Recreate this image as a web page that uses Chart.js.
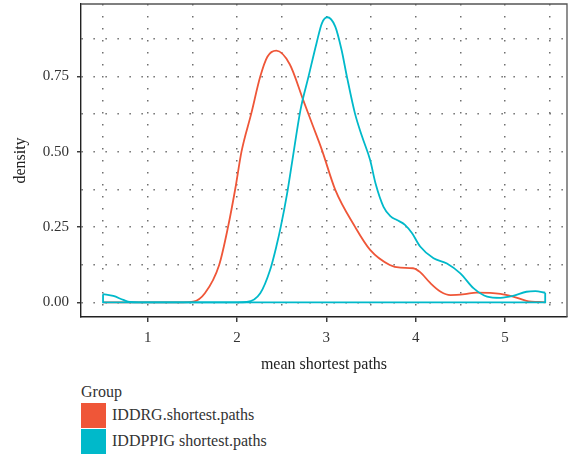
<!DOCTYPE html>
<html>
<head>
<meta charset="utf-8">
<script src="https://cdn.jsdelivr.net/npm/chart.js@4.4.1/dist/chart.umd.min.js"></script>
<style>
  body { margin: 0; background: #fff; }
  #wrap { position: relative; width: 574px; height: 458px; font-family: "Liberation Serif", serif; color: #333; }
  #legend { position: absolute; left: 81px; top: 381px; }
  .lg-title { font-size: 16px; height: 21px; line-height: 21px; }
  .lg-row { display: flex; align-items: center; height: 26px; font-size: 16px; }
  .lg-box { width: 25px; height: 25px; margin-right: 6px; }
</style>
</head>
<body>
<div id="wrap">
  <canvas id="chart" width="574" height="380"></canvas>
  <div id="legend"></div>
</div>
<script>
var groups = ['IDDRG.shortest.paths', 'IDDPPIG shortest.paths'];
var colors = ['#ef5638', '#00b9ca'];

// density curves
var iddrgX = [0.5, 1.0, 1.4, 1.51, 1.64, 1.80, 1.90, 1.98, 2.05, 2.16, 2.26, 2.34, 2.44, 2.59, 2.74, 2.85, 2.95,
  3.10, 3.32, 3.49, 3.71, 3.83, 3.97, 4.05, 4.16, 4.28, 4.39, 4.55, 4.68, 4.95, 5.09, 5.24, 5.45];
var iddrgY = [0, 0, 0, 0.002, 0.030, 0.124, 0.251, 0.376, 0.500, 0.627, 0.749, 0.815, 0.835, 0.790, 0.672, 0.585, 0.506,
  0.373, 0.251, 0.174, 0.124, 0.115, 0.113, 0.100, 0.065, 0.035, 0.024, 0.027, 0.032, 0.028, 0.019, 0.005, 0];

var iddppigX = [0.5, 0.615, 0.727, 0.80, 0.9, 2.0, 2.11, 2.26, 2.37, 2.44, 2.49, 2.56, 2.62, 2.71, 2.80, 2.89, 2.95,
  3.01, 3.10, 3.17, 3.23, 3.32, 3.40, 3.49, 3.55, 3.64, 3.72, 3.79, 3.88, 3.96, 4.05, 4.20, 4.35, 4.50, 4.65,
  4.80, 4.95, 5.09, 5.24, 5.34, 5.45];
var iddppigY = [0.027, 0.021, 0.008, 0.001, 0, 0, 0.001, 0.030, 0.107, 0.185, 0.251, 0.360, 0.472, 0.638, 0.749, 0.860, 0.926,
  0.946, 0.915, 0.838, 0.749, 0.627, 0.550, 0.472, 0.395, 0.317, 0.285, 0.273, 0.257, 0.229, 0.185, 0.146, 0.129, 0.096, 0.046,
  0.019, 0.015, 0.021, 0.035, 0.037, 0.032];

var xTicks = [0.5, 1, 1.5, 2, 2.5, 3, 3.5, 4, 4.5, 5, 5.5];
var yTicks = [0, 0.125, 0.25, 0.375, 0.5, 0.625, 0.75, 0.875];

var fontFamily = '"Liberation Serif", serif';

function toPoints(xs, ys) {
  return xs.map(function (x, i) { return { x: x, y: ys[i] }; });
}

// closing edges of the second density polygon (sides and baseline)
var last = iddppigX.length - 1;
var iddppigEdge = [
  { x: iddppigX[0], y: iddppigY[0] },
  { x: iddppigX[0], y: 0 },
  { x: iddppigX[last], y: 0 },
  { x: iddppigX[last], y: iddppigY[last] }
];

var framePlugin = {
  id: 'frame',
  beforeDatasetsDraw: function (chart) {
    var a = chart.chartArea;
    var ctx = chart.ctx;
    ctx.save();
    ctx.strokeStyle = '#555';
    ctx.lineWidth = 1.3;
    ctx.beginPath();
    ctx.moveTo(a.left, a.top);
    ctx.lineTo(a.right, a.top);
    ctx.lineTo(a.right, a.bottom);
    ctx.stroke();
    ctx.restore();
  }
};

var ctx = document.getElementById('chart').getContext('2d');
var chart = new Chart(ctx, {
  type: 'line',
  data: {
    datasets: [{
      label: groups[0],
      data: toPoints(iddrgX, iddrgY),
      borderColor: colors[0],
      borderWidth: 1.8,
      cubicInterpolationMode: 'monotone',
      pointRadius: 0,
      fill: false,
      order: 3
    }, {
      label: groups[1],
      data: toPoints(iddppigX, iddppigY),
      borderColor: colors[1],
      borderWidth: 1.8,
      cubicInterpolationMode: 'monotone',
      pointRadius: 0,
      fill: false,
      order: 1
    }, {
      label: groups[1] + ' edge',
      data: iddppigEdge,
      borderColor: colors[1],
      borderWidth: 1.8,
      tension: 0,
      pointRadius: 0,
      fill: false,
      order: 2
    }]
  },
  options: {
    responsive: false,
    animation: false,
    layout: { padding: { top: 4, right: 7, left: 0, bottom: 0 } },
    plugins: {
      legend: { display: false },
      tooltip: { enabled: false }
    },
    scales: {
      x: {
        type: 'linear',
        bounds: 'data',
        min: 0.2533,
        max: 5.694,
        afterBuildTicks: function (axis) {
          axis.ticks = xTicks.map(function (v) { return { value: v }; });
        },
        afterFit: function (axis) {
          axis.height = 63;
          axis.paddingLeft = 0;
          axis.paddingRight = 0;
        },
        ticks: {
          autoSkip: false,
          maxRotation: 0,
          padding: 7,
          color: '#333',
          font: { family: fontFamily, size: 15 },
          callback: function (v) { return Number.isInteger(v) ? String(v) : ''; }
        },
        grid: {
          color: '#6f6f6f',
          lineWidth: 1.5,
          tickLength: 5,
          tickWidth: 1.4,
          tickColor: function (c) { return Number.isInteger(c.tick.value) ? '#333' : 'rgba(0,0,0,0)'; }
        },
        border: { color: '#222', width: 1.4, dash: [1.5, 10.5] },
        title: {
          display: true,
          text: 'mean shortest paths',
          color: '#222',
          font: { family: fontFamily, size: 16 },
          padding: { top: 0, bottom: 5.4 }
        }
      },
      y: {
        type: 'linear',
        bounds: 'data',
        min: -0.0488,
        max: 0.99,
        afterBuildTicks: function (axis) {
          axis.ticks = yTicks.map(function (v) { return { value: v }; });
        },
        afterFit: function (axis) {
          axis.width = 81;
          axis.paddingTop = 0;
          axis.paddingBottom = 0;
        },
        ticks: {
          autoSkip: false,
          padding: 8,
          color: '#333',
          font: { family: fontFamily, size: 15 },
          callback: function (v) { return (v * 4) % 1 === 0 ? v.toFixed(2) : ''; }
        },
        grid: {
          color: '#6f6f6f',
          lineWidth: 1.5,
          tickLength: 4,
          tickWidth: 1.4,
          tickColor: function (c) { return (c.tick.value * 4) % 1 === 0 ? '#333' : 'rgba(0,0,0,0)'; }
        },
        border: { color: '#222', width: 1.4, dash: [1.5, 10.5] },
        title: {
          display: true,
          text: 'density',
          color: '#222',
          font: { family: fontFamily, size: 16 },
          padding: { top: 11.4, bottom: 0 }
        }
      }
    }
  },
  plugins: [framePlugin]
});

// legend below the plot
var legend = document.getElementById('legend');
var html = '<div class="lg-title">Group</div>';
groups.forEach(function (g, i) {
  html += '<div class="lg-row"><div class="lg-box" style="background:' + colors[i] + '"></div><span>' + g + '</span></div>';
});
legend.innerHTML = html;
</script>
</body>
</html>
